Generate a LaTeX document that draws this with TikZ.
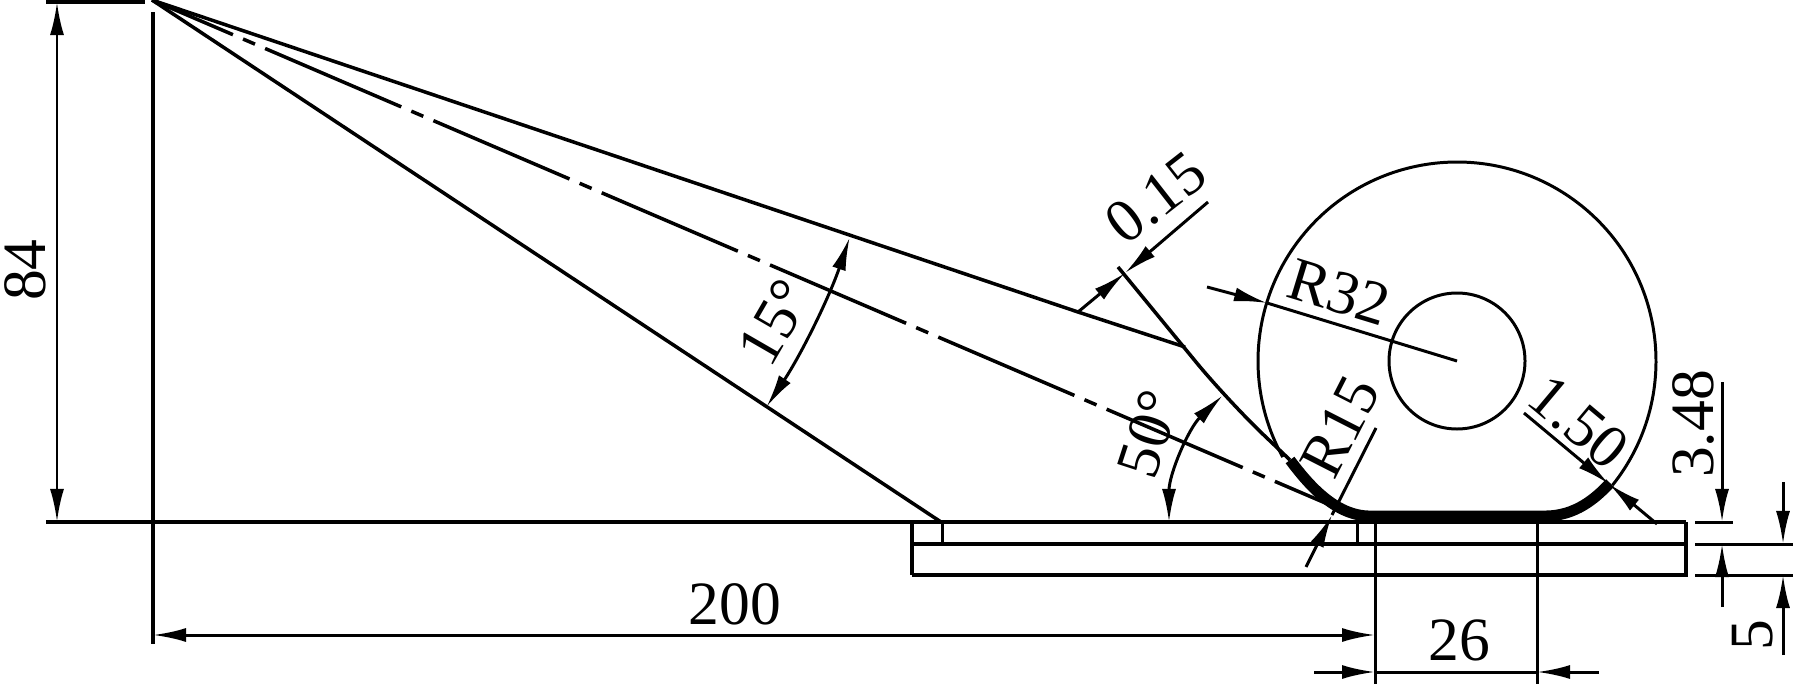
\documentclass[tikz,border=0pt]{standalone}
\usepackage{fontspec}
\setmainfont{Liberation Serif}
\usetikzlibrary{arrows.meta}
\begin{document}
\begin{tikzpicture}[x=0.01cm, y=0.01cm, font=\fontsize{17.5}{20}\selectfont,
            heavy/.style={line width=1.25pt},
            part/.style={line width=1pt},
            thin line/.style={line width=0.85pt},
            lbl/.style={inner sep=0pt},
            dimboth/.style={thin line, {Latex[length=0.33cm,width=0.14cm]}-{Latex[length=0.33cm,width=0.14cm]}},
            dimto/.style={thin line, -{Latex[length=0.33cm,width=0.14cm]}},
            centre line/.style={part, dash pattern=on 1.48cm off 0.11cm on 0.13cm off 0.11cm, dash phase=0.6cm},
            fillet/.style={line width=3.1pt}]
            \useasboundingbox (0,0) rectangle (1797,684);
            \coordinate (apex) at (152,684);
            \coordinate (roller) at (1457,323);
            \coordinate (branch) at (1078,372);
            \coordinate (kink) at (1185,337);
            \coordinate (bend) at (1228,283);
            \coordinate (hit015) at (1125,411);
            \coordinate (hit150) at (1609,200);
            \coordinate (hit15) at (1332,169);
            \coordinate (vertex) at (1345,162);

            \draw[heavy] (46,162) -- (1686,162);
            \draw[heavy] (46,682) -- (145,682);
            \draw[line width=1.3pt] (153,672) -- (153,40);
            \draw[heavy] (912,162) -- (912,109);
            \draw[part] (912,140) -- (1686,140);
            \draw[part] (912,109) -- (1686,109) -- (1686,162);
            \draw[thin line] (942,162) -- (942,140);
            \draw[thin line] (1357,162) -- (1357,140);
            \draw[thin line] (1375,162) -- (1375,0);
            \draw[thin line] (1537,162) -- (1537,0);

            \draw[part] (apex) -- (branch) -- (kink);
            \draw[part] (apex) -- (941,162);
            \draw[centre line] (apex) -- (1337,176);
            \draw[part, rounded corners=0.5cm] (1118,417) -- (bend) -- (1290,224);

            \draw[thin line] (roller) ++(-38.6:199) arc[start angle=-38.6, end angle=208.9, radius=199];
            \draw[thin line] (roller) circle[radius=68];
            \draw[fillet] (1290,224) .. controls (1308,200) and (1335,168) .. (1370,168)
              -- (1545,168) .. controls (1575,168) and (1595,185) .. (1610,201);

            \draw[dimboth] (57,682) -- (57,162);
            \draw[dimboth] (153,49) -- (1375,49);
            \draw[dimboth] (apex) ++(-33.5:737) arc[start angle=-33.5, end angle=-18.8, radius=737];
            \draw[dimboth] (vertex) ++(180:176) arc[start angle=180, end angle=134, radius=176];

            \draw[dimto] (branch) -- (hit015);
            \draw[dimto] (1208,482) -- (hit015);
            \draw[dimto] (1207,397) -- (1267,381);
            \draw[thin line] (1267,381) -- (roller);
            \draw[dimto] (1306,117) -- (hit15);
            \draw[thin line] (hit15) -- (1376,256);
            \draw[dimto] (1524,271) -- (hit150);
            \draw[dimto] (1657,160) -- (hit150);

            \draw[dimto] (1314,12) -- (1375,12);
            \draw[dimto] (1599,12) -- (1537,12);
            \draw[thin line] (1375,12) -- (1537,12);

            \draw[thin line] (1695,162) -- (1733,162);
            \draw[thin line] (1695,140) -- (1793,140);
            \draw[thin line] (1695,109) -- (1793,109);
            \draw[dimto] (1722,302) -- (1722,162);
            \draw[dimto] (1722,77) -- (1722,140);
            \draw[dimto] (1783,202) -- (1783,140);
            \draw[dimto] (1783,29) -- (1783,109);

            \node[lbl, rotate=90] (lab84) at (25,414) {84};
            \node[lbl] (lab200) at (735,80) {200};
            \node[lbl] (lab26) at (1459,44) {26};
            \node[lbl, rotate=90] (lab5) at (1753,49) {5};
            \node[lbl, rotate=90] (lab348) at (1693,260) {3.48};
            \node[lbl, rotate=60] (lab15d) at (775,362) {15°};
            \node[lbl, rotate=72] (lab50d) at (1149,250) {50°};
            \node[lbl, rotate=38] (lab015) at (1156,486) {0.15};
            \node[lbl, rotate=-17] (labR32) at (1339,392) {R32};
            \node[lbl, rotate=63] (labR15) at (1340,257) {R15};
            \node[lbl, rotate=-40] (lab150) at (1579,262) {1.50};
          \end{tikzpicture}
\end{document}
